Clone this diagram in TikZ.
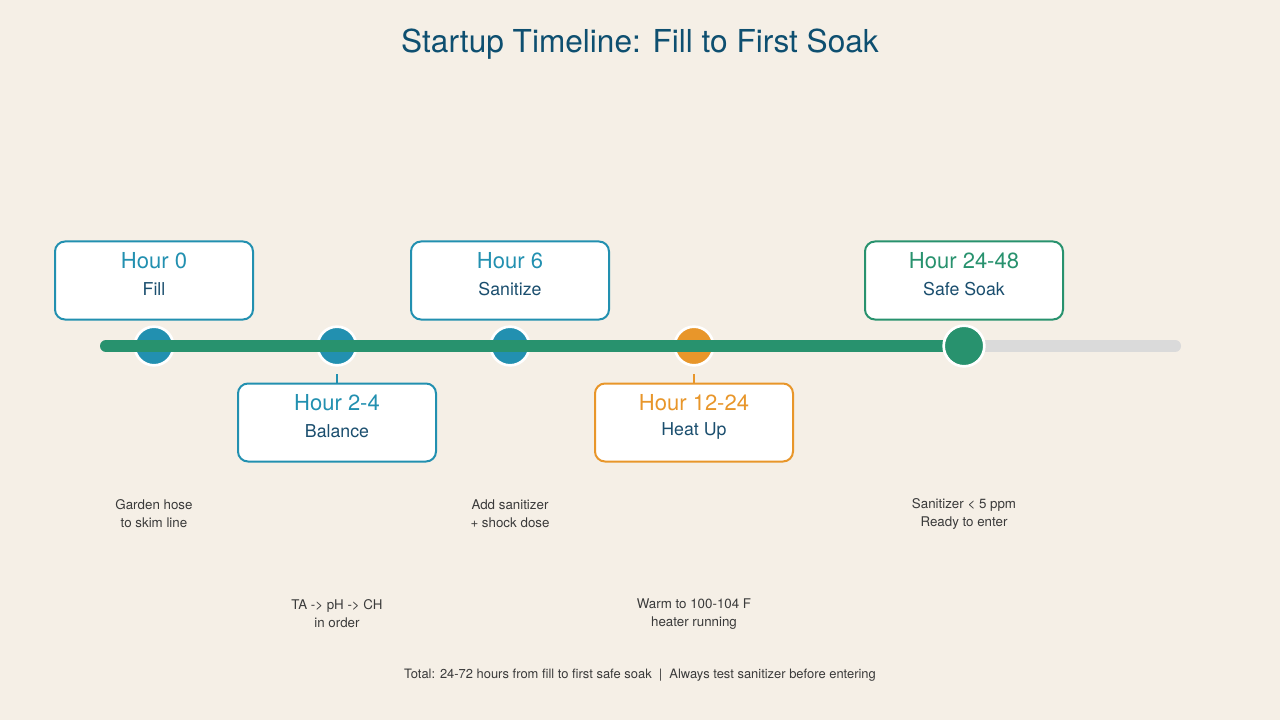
\documentclass[tikz,border=0pt]{standalone}
\usepackage{fontspec}
\setmainfont{TeX Gyre Heros}
\definecolor{bg}{HTML}{F5EFE6}
\definecolor{teal}{HTML}{2290B0}
\definecolor{grn}{HTML}{28926E}
\definecolor{orng}{HTML}{E8962A}
\definecolor{titleblue}{HTML}{0E4F70}
\definecolor{subblue}{HTML}{1A4E6E}
\definecolor{desc}{HTML}{3A3A3A}
\definecolor{track}{HTML}{DADADA}
\begin{document}
\begin{tikzpicture}[x=0.75pt,y=-0.75pt,
  stagebox/.style={draw=#1, line width=1.5pt, fill=white, rounded corners=7.5pt,
    minimum width=148.5pt, minimum height=58.5pt, inner sep=0pt},
  dot/.style={circle, fill=#1, draw=white, line width=2pt, minimum size=29pt, inner sep=0pt},
  hourtxt/.style={text=#1, font=\fontsize{16.5}{19}\selectfont, inner sep=0pt},
  subtxt/.style={text=subblue, font=\fontsize{13.3}{16}\selectfont, inner sep=0pt},
  desctxt/.style={text=desc, font=\fontsize{10}{13.5}\selectfont, align=center, inner sep=0pt},
  conn/.style={draw=#1, line width=1.2pt}
]
\useasboundingbox[fill=bg] (0,0) rectangle (1280,720);

\node[text=titleblue, font=\fontsize{23.7}{28}\selectfont, inner sep=0pt] (title) at (640,44) {Startup Timeline: Fill to First Soak};

% track
\coordinate (tstart) at (106,346);
\coordinate (tend) at (1175,346);
\coordinate (tprog) at (960,346);
\draw[track, line width=9pt, line cap=round] (tstart) -- (tend);

% dots
\node[dot=teal] (c1) at (154,346) {};
\node[dot=teal] (c2) at (337,346) {};
\node[dot=teal] (c3) at (510,346) {};
\node[dot=orng] (c4) at (694,346) {};

% progress over the first dots
\draw[grn, line width=9pt, line cap=round] (tstart) -- (tprog);
\node[dot=grn, minimum size=30.5pt] (c5) at (964,346) {};

% boxes
\node[stagebox=teal] (b1) at (154,280.5) {};
\node[stagebox=teal] (b2) at (337,422.5) {};
\node[stagebox=teal] (b3) at (510,280.5) {};
\node[stagebox=orng] (b4) at (694,422.5) {};
\node[stagebox=grn] (b5) at (964,280.5) {};

% connectors for lower boxes
\coordinate (k2) at (337,374);
\coordinate (k4) at (694,374);
\draw[conn=teal] (k2) -- (b2.north);
\draw[conn=orng] (k4) -- (b4.north);

% box texts
\node[hourtxt=teal] (h1) at (154,261) {Hour 0};
\node[subtxt] (s1) at (154,289) {Fill};
\node[hourtxt=teal] (h2) at (337,403) {Hour 2-4};
\node[subtxt] (s2) at (337,431) {Balance};
\node[hourtxt=teal] (h3) at (510,261) {Hour 6};
\node[subtxt] (s3) at (510,289) {Sanitize};
\node[hourtxt=orng] (h4) at (694,403) {Hour 12-24};
\node[subtxt] (s4) at (694,431) {Heat Up};
\node[hourtxt=grn] (h5) at (964,261) {Hour 24-48};
\node[subtxt] (s5) at (964,289) {Safe Soak};

% descriptions
\node[desctxt] (d1) at (154,514) {Garden hose\\to skim line};
\node[desctxt] (d3) at (510,514) {Add sanitizer\\+ shock dose};
\node[desctxt] (d5) at (964,514) {Sanitizer < 5 ppm\\Ready to enter};
\node[desctxt] (d2) at (337,614) {TA -> pH -> CH\\in order};
\node[desctxt] (d4) at (694,614) {Warm to 100-104 F\\heater running};

% footer
\node[desctxt, font=\fontsize{9.7}{12}\selectfont] (foot) at (640,675) {Total: 24-72 hours from fill to first safe soak~~|~~Always test sanitizer before entering};
\end{tikzpicture}
\end{document}
